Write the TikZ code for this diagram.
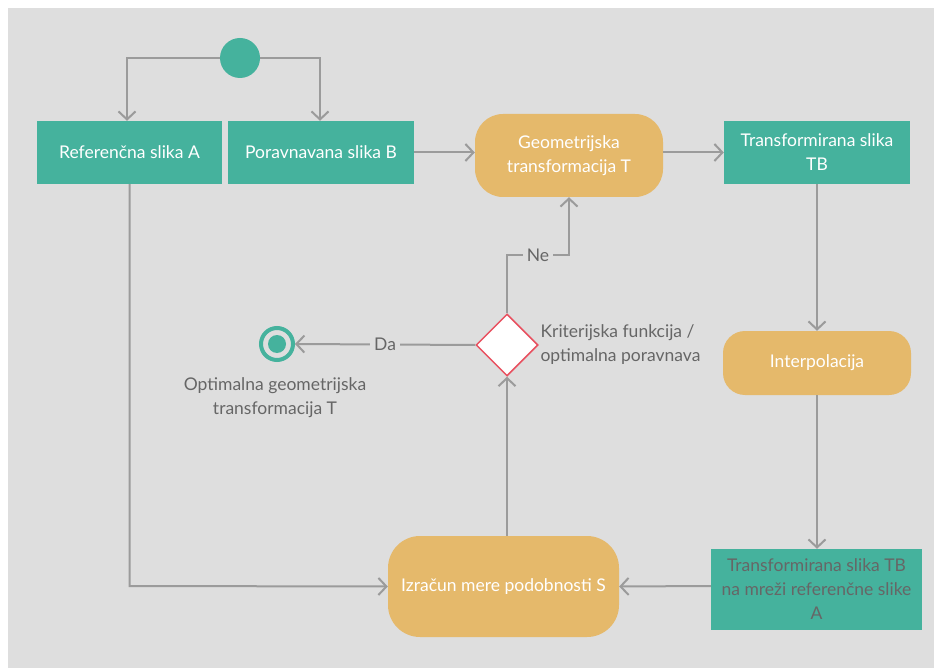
\documentclass[tikz,border=0pt]{standalone}
\usepackage{fontspec}
\setmainfont{Lato}
\usetikzlibrary{arrows.meta,shapes.geometric}
\definecolor{teal}{HTML}{45B29D}
\definecolor{ochre}{HTML}{E5B96B}
\definecolor{linegray}{HTML}{9B9B9B}
\definecolor{bggray}{HTML}{DEDEDE}
\definecolor{txtgray}{HTML}{666666}
\definecolor{redb}{HTML}{E8505F}
\begin{document}
\begin{tikzpicture}[x=1pt,y=-1pt,
  font=\fontsize{17.5}{24}\selectfont,
  tealbox/.style={fill=teal,draw=none,text=white,align=center,inner sep=0pt},
  ochrebox/.style={fill=ochre,draw=none,text=white,align=center,rounded corners=28pt,inner sep=0pt},
  conn/.style={draw=linegray,line width=2pt,-{Straight Barb[length=8pt,width=17pt,line width=2pt]}},
  lbl/.style={fill=bggray,text=txtgray,inner sep=4pt},
  note/.style={text=txtgray,align=left}]
\useasboundingbox (0,0) rectangle (934,668);
\fill[bggray] (8,8) rectangle (934,668);

\node[circle,fill=teal,minimum size=40pt,inner sep=0pt] (start) at (240,58) {};
\node[tealbox,minimum width=185pt,minimum height=63pt] (A) at (129.5,152.5) {Referenčna slika A};
\node[tealbox,minimum width=186pt,minimum height=63pt] (B) at (321,152.5) {Poravnavana slika B};
\node[ochrebox,minimum width=188pt,minimum height=83pt] (G) at (569,155.5) {Geometrijska\\transformacija T};
\node[tealbox,minimum width=186pt,minimum height=63pt] (TB) at (817,152.5) {Transformirana slika\\TB};
\node[ochrebox,rounded corners=22pt,minimum width=188pt,minimum height=64pt] (I) at (817,363) {Interpolacija};
\node[tealbox,text=txtgray,minimum width=211pt,minimum height=81pt] (F) at (816.5,589.5) {Transformirana slika TB\\na mreži referenčne slike\\A};
\node[ochrebox,rounded corners=32pt,minimum width=231pt,minimum height=101pt] (S) at (503.5,586.5) {Izračun mere podobnosti S};
\node[diamond,aspect=1,fill=white,draw=redb,line width=1.5pt,minimum size=62pt,inner sep=0pt] (D) at (507,345) {};
\node[circle,draw=teal,line width=4pt,minimum size=32pt,inner sep=0pt] (E) at (277,344) {};
\node[circle,fill=teal,minimum size=18pt,inner sep=0pt] (Ein) at (E.center) {};
\node[note,anchor=west] (Dl) at (537,345) {Kriterijska funkcija /\\optimalna poravnava};
\node[note,align=center] (El) at (275,398) {Optimalna geometrijska\\transformacija T};

\coordinate (sl) at (127,58);
\coordinate (sr) at (320,58);
\draw[conn] (start.west) -- (sl) -- (sl |- A.north);
\draw[conn] (start.east) -- (sr) -- (sr |- B.north);
\draw[conn] (B.east) -- (G.west |- B.east);
\draw[conn] (G.east |- TB.west) -- (TB.west);
\draw[conn] (TB.south) -- (I.north);
\draw[conn] (I.south) -- (F.north -| I.south);
\draw[conn] (F.west |- 0,586) -- (S.east);
\coordinate (ac) at (A.south |- 0,586);
\draw[conn] (A.south) -- (ac) -- (S.west);
\draw[conn] (S.north -| D.south) -- (D.south);
\draw[conn] (D.west) -- (E.west -| E.east) node[lbl,pos=0.5] {Da};
\coordinate (n1) at (507,255);
\coordinate (n2) at (569,255);
\draw[conn] (D.north) -- (n1) -- node[lbl,pos=0.5] {Ne} (n2) -- (G.south);
\end{tikzpicture}
\end{document}
